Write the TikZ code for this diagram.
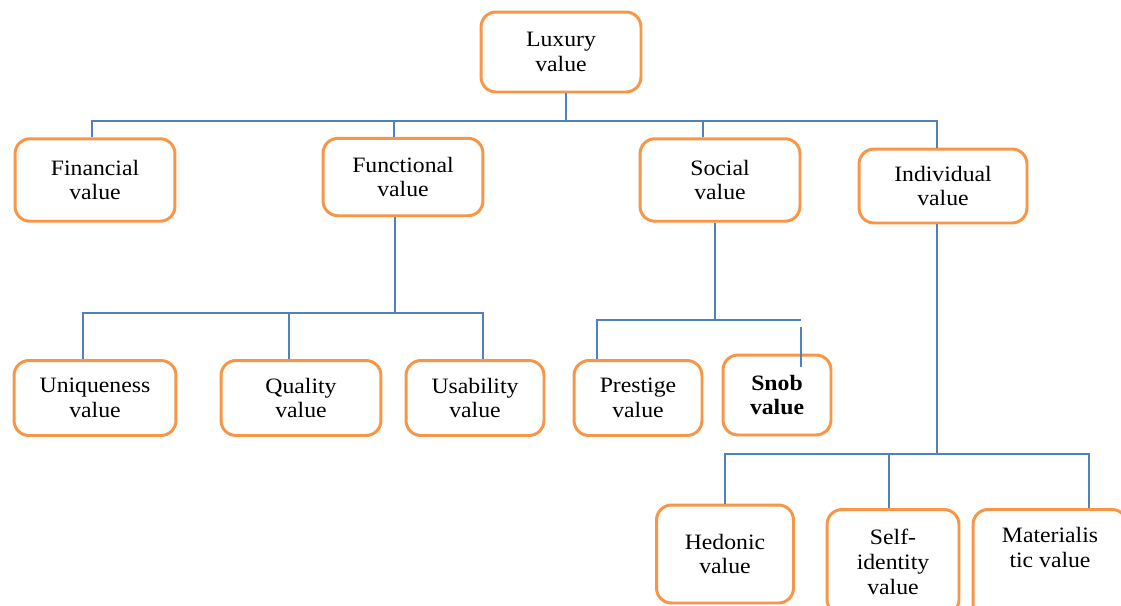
\documentclass[tikz,border=0pt]{standalone}
\usepackage{fontspec}
\setmainfont{Liberation Serif}[FakeStretch=1.08]
\usetikzlibrary{shapes}
\definecolor{boxorange}{HTML}{F79646}
\definecolor{lineblue}{HTML}{4F81BD}

\begin{document}
\begin{tikzpicture}[x=0.02cm,y=-0.02cm]
            \useasboundingbox (0,0) rectangle (1121,605);
            \tikzstyle{box}=[rectangle,rounded corners=0.3cm,draw=boxorange,line width=1.7pt,fill=white,align=center,font=\fontsize{12.5}{14.2}\selectfont]
            \tikzstyle{wire}=[draw=lineblue,line width=0.8pt]

            \tikzstyle{top}=[box,minimum width=3.2cm,minimum height=1.6cm]    % upper levels
            \tikzstyle{low}=[box,minimum height=1.5cm]                       % lower levels

            \node[top] (0) at (561, 52) {Luxury\\value};
            \node[top,minimum height=1.65cm] (1) at ( 95,180) {Financial\\value};
            \node[top,minimum height=1.55cm] (2) at (403,177) {Functional\\value};
            \node[top,minimum height=1.65cm] (3) at (720,180) {Social\\value};
            \node[top,minimum width=3.36cm,minimum height=1.48cm] (4) at (943,186) {Individual\\value};

            \node[low,minimum width=3.24cm] (21) at ( 95,398) {Uniqueness\\value};
            \node[low,minimum width=3.2cm]  (22) at (301,398) {Quality\\value};
            \node[low,minimum width=2.76cm] (23) at (475,398) {Usability\\value};
            \node[low,minimum width=2.56cm] (31) at (638,398) {Prestige\\value};
            \node[low,minimum width=2.16cm,minimum height=1.6cm] (32) at (777,395) {\bfseries Snob\\\bfseries value};

            \node[box,minimum width=2.74cm,minimum height=1.96cm] (41) at (725,554) {Hedonic\\value};
            \node[box,minimum width=2.64cm,minimum height=2.1cm]  (42) at (893,562) {Self-\\identity\\value};
            \node[box,anchor=north,minimum width=3.08cm,inner ysep=10pt,text depth=1.4cm] (43) at (1050,508) {Materialis\\tic value};

            \coordinate (j0) at (566,121);
            \coordinate (j1) at (395,313);
            \coordinate (j2) at (715,320);
            \coordinate (j2r) at (801,320);
            \coordinate (j3) at (937,454);

            % luxury value
            \draw[wire] (0.south -| j0) -- (j0);
            \draw[wire] ([xshift=-0.06cm]1.north) |- (j0) -| ([xshift=-0.12cm]4.north);
            \draw[wire] ([xshift=-0.18cm]2.north) -- ([xshift=-0.18cm]2.north |- j0);
            \draw[wire] ([xshift=-0.34cm]3.north) -- ([xshift=-0.34cm]3.north |- j0);

            % functional value
            \draw[wire] (2.south -| j1) -- (j1);
            \draw[wire] ([xshift=-0.24cm]21.north) |- (j1) -| ([xshift=0.16cm]23.north);
            \draw[wire] ([xshift=-0.24cm]22.north) -- ([xshift=-0.24cm]22.north |- j1);

            % social value
            \draw[wire] (3.south -| j2) -- (j2);
            \draw[wire] ([xshift=-0.82cm]31.north) |- (j2) -- (j2r);
            \draw[wire] ([xshift=0.48cm,yshift=0.54cm]32.north) -- ([xshift=0.48cm,yshift=-0.26cm]32.north);

            % individual value
            \draw[wire] (4.south -| j3) -- (j3);
            \draw[wire] (41.north) |- (j3) -| ([xshift=0.78cm]43.north);
            \draw[wire] ([xshift=-0.08cm]42.north) -- ([xshift=-0.08cm]42.north |- j3);
\end{tikzpicture}
\end{document}
